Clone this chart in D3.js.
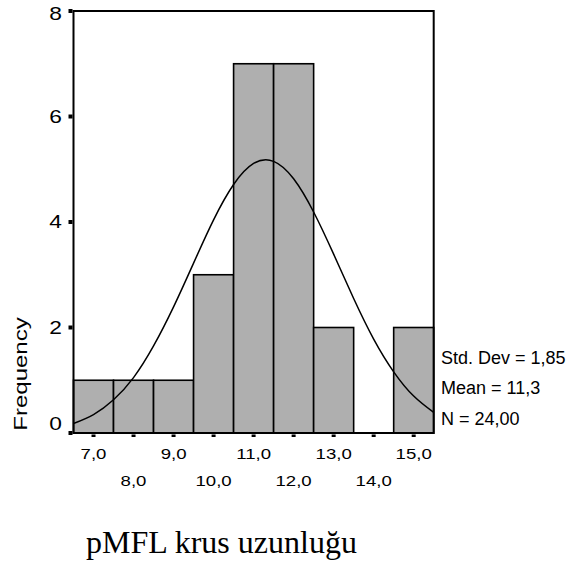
<!DOCTYPE html>
<html>
<head>
<meta charset="utf-8">
<script src="https://cdn.jsdelivr.net/npm/d3@7"></script>
<style>
  html, body { margin: 0; padding: 0; background: #fff; }
  svg { display: block; }
</style>
</head>
<body>
<script>
// ---- data ----
const binCenters = [7, 8, 9, 10, 11, 12, 13, 14, 15];
const counts     = [1, 1, 1, 3, 7, 7, 2, 0, 2];
const xTickLabels = ["7,0", "8,0", "9,0", "10,0", "11,0", "12,0", "13,0", "14,0", "15,0"];
const yTicks = [0, 2, 4, 6, 8];
const yTickLabels = ["0", "2", "4", "6", "8"];
// normal curve (x, frequency)
const curveX = [6.5, 7, 7.5, 8, 8.5, 9, 9.5, 10, 10.5, 11, 11.5, 12, 12.5, 13, 13.5, 14, 14.5, 15, 15.5];
const curveY = [0.18, 0.35, 0.63, 1.05, 1.65, 2.39, 3.22, 4.04, 4.71, 5.11, 5.15, 4.82, 4.19, 3.39, 2.55, 1.78, 1.16, 0.70, 0.39];
const statLabels = ["Std. Dev = 1,85", "Mean = 11,3", "N = 24,00"];
const yAxisTitle = "Frequency";
const xAxisTitle = "pMFL krus uzunluğu";

// ---- drawing ----
const W = 572, H = 572;
const svg = d3.select("body").append("svg").attr("width", W).attr("height", H);
const sans = "'Liberation Sans', Arial, sans-serif";
const serif = "'Liberation Serif', 'Times New Roman', serif";

const x = d3.scaleLinear().domain([6.5, 15.5]).range([73.5, 433.7]);
const y = d3.scaleLinear().domain([0, 8]).range([433, 11]);

// bars
svg.append("g").selectAll("rect")
  .data(binCenters.map((c, i) => ({c, n: counts[i]})).filter(d => d.n > 0))
  .join("rect")
  .attr("x", d => x(d.c - 0.5))
  .attr("y", d => y(d.n))
  .attr("width", d => x(d.c + 0.5) - x(d.c - 0.5))
  .attr("height", d => y(0) - y(d.n))
  .attr("fill", "#afafaf")
  .attr("stroke", "#000")
  .attr("stroke-width", 1.6);

// normal curve
const line = d3.line()
  .x((d, i) => x(curveX[i]))
  .y(d => y(d))
  .curve(d3.curveNatural);
svg.append("path")
  .attr("d", line(curveY))
  .attr("fill", "none")
  .attr("stroke", "#000")
  .attr("stroke-width", 1.5);

// frame
svg.append("rect")
  .attr("x", x.range()[0]).attr("y", y.range()[1])
  .attr("width", x.range()[1] - x.range()[0])
  .attr("height", y.range()[0] - y.range()[1])
  .attr("fill", "none").attr("stroke", "#000").attr("stroke-width", 2);

// y ticks (small squares) and labels
svg.append("g").selectAll("rect")
  .data(yTicks).join("rect")
  .attr("x", x.range()[0] - 5).attr("y", d => y(d) - 2)
  .attr("width", 4).attr("height", 4).attr("fill", "#000");

const yFont = 17.5, ySx = 1.3;
svg.append("g").selectAll("g")
  .data(yTicks).join("g")
  .attr("transform", (d) => {
    const c = Math.max(y(8) + 2.7, Math.min(y(0) - 9, y(d)));
    return `translate(62,${c + yFont * 0.358}) scale(${ySx},1)`;
  })
  .append("text")
  .attr("text-anchor", "end")
  .attr("font-family", sans).attr("font-size", yFont)
  .text((d, i) => yTickLabels[i]);

// x ticks (small dashes) and staggered labels
svg.append("g").selectAll("rect")
  .data(binCenters).join("rect")
  .attr("x", d => x(d) - 2).attr("y", y(0) + 1.5)
  .attr("width", 4).attr("height", 2.5).attr("fill", "#000");

const xFont = 15.5, xSx = 1.2;
svg.append("g").selectAll("g")
  .data(binCenters).join("g")
  .attr("transform", (d, i) => `translate(${x(d)},${i % 2 === 0 ? 459 : 486}) scale(${xSx},1)`)
  .append("text")
  .attr("text-anchor", "middle")
  .attr("font-family", sans).attr("font-size", xFont)
  .text((d, i) => xTickLabels[i]);

// stats
svg.append("g").selectAll("text")
  .data(statLabels).join("text")
  .attr("x", 441).attr("y", (d, i) => 363.5 + i * 30.5)
  .attr("font-family", sans).attr("font-size", 18)
  .text(d => d);

// y axis title
svg.append("g")
  .attr("transform", "translate(27,374) rotate(-90) scale(1.3,1)")
  .append("text")
  .attr("text-anchor", "middle")
  .attr("font-family", sans).attr("font-size", 18.5)
  .text(yAxisTitle);

// x axis title
svg.append("text")
  .attr("x", 221.5).attr("y", 553)
  .attr("text-anchor", "middle")
  .attr("font-family", serif).attr("font-size", 32)
  .text(xAxisTitle);
</script>
</body>
</html>
